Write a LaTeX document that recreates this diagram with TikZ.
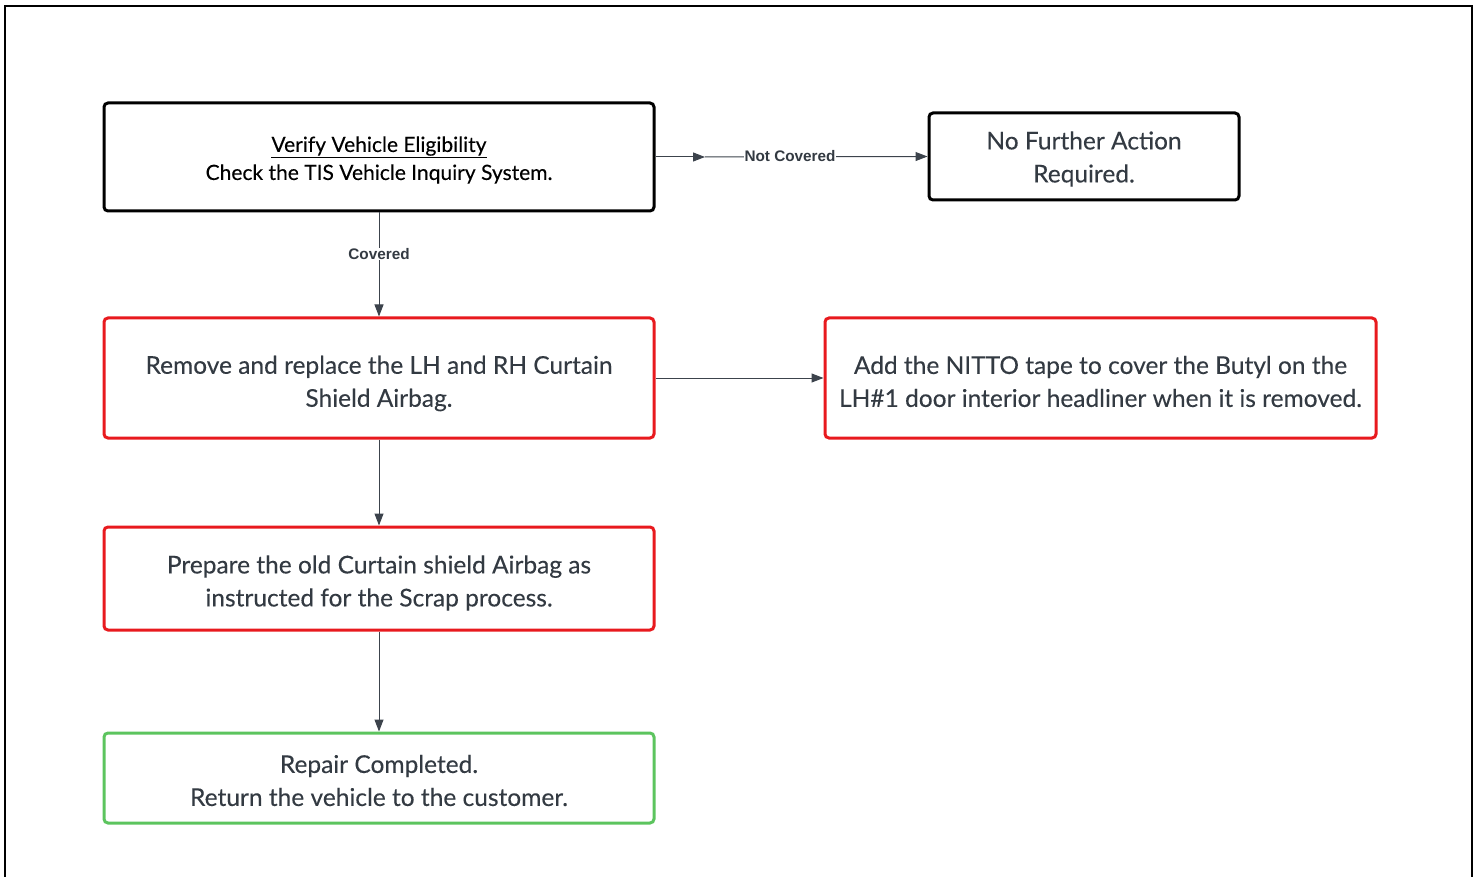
\documentclass[tikz,border=0pt]{standalone}
\usepackage{fontspec}
\setmainfont{Lato}[UprightFeatures={FakeBold=0.2}]
\newfontfamily\lblfont{Liberation Sans}
\usetikzlibrary{arrows.meta}
\definecolor{boxred}{HTML}{E81A1E}
\definecolor{boxgreen}{HTML}{5CC45E}
\definecolor{linegray}{HTML}{3C434C}
\definecolor{txtgray}{HTML}{333A42}
\tikzset{
  box/.style={draw, line width=3pt, rounded corners=4pt, minimum width=550pt, inner sep=0pt},
  blackbox/.style={box, draw=black},
  redbox/.style={box, draw=boxred},
  greenbox/.style={box, draw=boxgreen},
  txt/.style={align=center, text=txtgray, inner sep=0pt, font=\fontsize{24.5}{33}\selectfont},
  smalltxt/.style={txt, text=black, font=\fontsize{21}{28}\selectfont},
  arr/.style={draw=linegray, line width=1pt, -{Triangle[length=12pt,width=9pt]}},
  lbl/.style={fill=white, inner sep=0.5pt, text=txtgray, font=\lblfont\bfseries\fontsize{15.3}{17}\selectfont},
}
\begin{document}
\begin{tikzpicture}[x=1pt,y=-1pt]
\useasboundingbox (0,0) rectangle (1478,877);
\draw[line width=2pt] (5,880) -- (5,6) -- (1472,6) -- (1472,880);

\node[blackbox, minimum height=108pt] (b1) at (379,157) {};
\node[smalltxt] (t1) at ([yshift=-3pt]b1.center) {\underline{Verify Vehicle Eligibility}\\Check the TIS Vehicle Inquiry System.};
\node[blackbox, minimum width=310pt, minimum height=87pt] (b2) at (1084,156.5) {};
\node[txt] (t2) at ([yshift=-2.5pt]b2.center) {No Further Action\\Required.};
\node[redbox, minimum height=120pt] (b3) at (379,378) {};
\node[txt] (t3) at ([yshift=-5.5pt]b3.center) {Remove and replace the LH and RH Curtain\\Shield Airbag.};
\node[redbox, minimum width=551pt, minimum height=120pt] (b4) at (1100.5,378) {};
\node[txt] (t4) at ([yshift=-3.5pt]b4.center) {Add the NITTO tape to cover the Butyl on the\\LH\#1 door interior headliner when it is removed.};
\node[redbox, minimum height=103pt] (b5) at (379,578.5) {};
\node[txt] (t5) at ([yshift=-4.5pt]b5.center) {Prepare the old Curtain shield Airbag as\\instructed for the Scrap process.};
\node[greenbox, minimum height=90pt] (b6) at (379,778) {};
\node[txt] (t6) at ([yshift=-2.5pt]b6.center) {Repair Completed.\\Return the vehicle to the customer.};

\coordinate (nc) at (705,157);
\draw[arr] (b1.east) -- (nc);
\draw[arr] (nc) -- (b2.west);
\node[lbl] (ncl) at (790,156) {Not Covered};

\draw[arr] (b1.south) -- (b3.north);
\node[lbl] (cl) at (379,254) {Covered};

\draw[arr] (b3.east) -- (b4.west);
\draw[arr] (b3.south) -- (b5.north);
\draw[arr] (b5.south) -- (b6.north);
\end{tikzpicture}
\end{document}
